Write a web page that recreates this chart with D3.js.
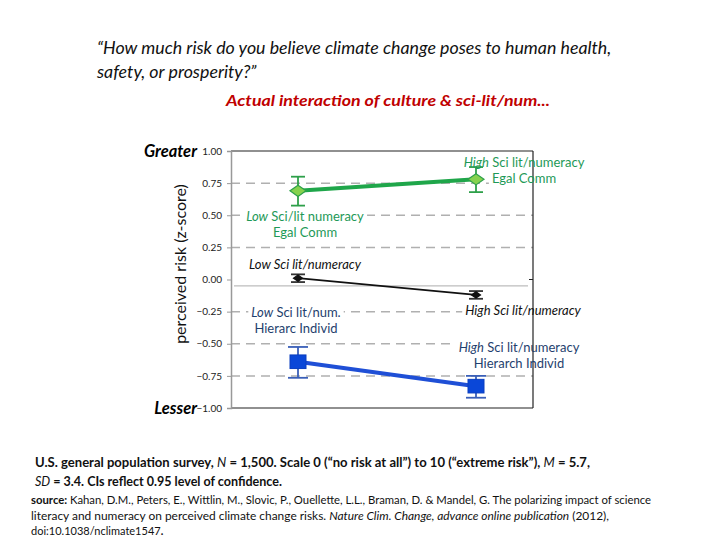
<!DOCTYPE html>
<html>
<head>
<meta charset="utf-8">
<script src="https://cdn.jsdelivr.net/npm/d3@7"></script>
<style>
  body { margin: 0; background: #fff; }
  text { font-family: Lato, "Open Sans", sans-serif; }
</style>
</head>
<body>
<div id="chart"></div>
<script>
// sci-lit/numeracy levels on the x axis
const levels = ["Low", "High"];

// perceived risk (z-score), means and 95% CIs
const egalMean = [0.69, 0.78];
const egalLow = [0.575, 0.68];
const egalHigh = [0.80, 0.875];

const allMean = [0.01, -0.12];
const allLow = [-0.02, -0.15];
const allHigh = [0.04, -0.09];

const hierMean = [-0.64, -0.83];
const hierLow = [-0.765, -0.92];
const hierHigh = [-0.525, -0.75];

const yTicks = [1, 0.75, 0.5, 0.25, 0, -0.25, -0.5, -0.75, -1];
const gridVals = [0.75, 0.5, 0.25, -0.25, -0.5, -0.75];

const W = 720, H = 540;
const plot = { left: 231, right: 533, top: 151, bottom: 408 };

const svg = d3.select("#chart")
  .append("svg")
    .attr("width", W)
    .attr("height", H);

const x = d3.scalePoint()
  .domain(levels)
  .range([298, 476]);

const y = d3.scaleLinear()
  .domain([-1, 1])
  .range([plot.bottom, plot.top]);

// titles
svg.append("text")
  .attr("x", 97).attr("y", 54)
  .style("font-size", "17.8px").style("font-style", "italic")
  .attr("fill", "#111")
  .text("\u201CHow much risk do you believe climate change poses to human health,");
svg.append("text")
  .attr("x", 97).attr("y", 78)
  .style("font-size", "17.8px").style("font-style", "italic")
  .attr("fill", "#111")
  .text("safety, or prosperity?\u201D");

svg.append("text")
  .attr("x", 226).attr("y", 106)
  .attr("textLength", 324).attr("lengthAdjust", "spacingAndGlyphs")
  .style("font-size", "16px").style("font-style", "italic").style("font-weight", "bold")
  .attr("fill", "#c00000")
  .text("Actual interaction of culture & sci-lit/num...");

// gridlines
svg.append("g")
  .selectAll("line")
  .data(gridVals)
  .enter()
  .append("line")
    .attr("x1", plot.left).attr("x2", plot.right)
    .attr("y1", d => y(d)).attr("y2", d => y(d))
    .attr("stroke", "#b0b0b0")
    .attr("stroke-width", 1.5)
    .attr("stroke-dasharray", "9,6");

const bgLayer = svg.append("g");

// light category axis line just below zero
svg.append("line")
  .attr("x1", plot.left + 3).attr("x2", plot.right - 5)
  .attr("y1", y(-0.05)).attr("y2", y(-0.05))
  .attr("stroke", "#bdbdbd").attr("stroke-width", 1.2);

// frame
svg.append("line")
  .attr("x1", plot.left).attr("x2", plot.right)
  .attr("y1", plot.top).attr("y2", plot.top)
  .attr("stroke", "#222").attr("stroke-width", 1.2);
svg.append("line")
  .attr("x1", plot.right).attr("x2", plot.right)
  .attr("y1", plot.top).attr("y2", plot.bottom)
  .attr("stroke", "#222").attr("stroke-width", 1.2);
svg.append("line")
  .attr("x1", plot.left).attr("x2", plot.right)
  .attr("y1", plot.bottom).attr("y2", plot.bottom)
  .attr("stroke", "#222").attr("stroke-width", 1.2);
svg.append("line")
  .attr("x1", plot.right - 4).attr("x2", plot.right)
  .attr("y1", y(0)).attr("y2", y(0))
  .attr("stroke", "#222");

// y axis
const yAxis = svg.append("g")
  .attr("transform", `translate(${plot.left},0)`)
  .call(d3.axisLeft(y).tickValues(yTicks).tickFormat(d3.format(".2f")).tickSize(4).tickPadding(5));
yAxis.select(".domain").attr("stroke", "#999").attr("stroke-width", 1.5);
yAxis.selectAll(".tick line").attr("stroke", "#999");
yAxis.selectAll(".tick text")
  .style("font-size", "10px")
  .style("font-family", "Lato, sans-serif")
  .attr("fill", "#222");

svg.append("text")
  .attr("x", 197).attr("y", y(1) + 6)
  .attr("text-anchor", "end")
  .style("font-size", "16.5px").style("font-style", "italic").style("font-weight", "bold")
  .text("Greater");
svg.append("text")
  .attr("x", 197).attr("y", y(-1) + 6)
  .attr("text-anchor", "end")
  .style("font-size", "16.5px").style("font-style", "italic").style("font-weight", "bold")
  .text("Lesser");

svg.append("text")
  .attr("transform", "translate(186,264) rotate(-90)")
  .attr("text-anchor", "middle")
  .style("font-size", "16px")
  .attr("fill", "#111")
  .text("perceived risk (z-score)");

// series
const series = [
  { mean: hierMean, low: hierLow, high: hierHigh, line: "#1f4fd6", fill: "#0a47d8", stroke: "#0a3fc0", ebar: "#3a5fb8", shape: "square", lw: 4, size: 16 },
  { mean: allMean, low: allLow, high: allHigh, line: "#111", fill: "#111", stroke: "#111", ebar: "#333", shape: "diamond", lw: 1.8, size: 9 },
  { mean: egalMean, low: egalLow, high: egalHigh, line: "#1fa64a", fill: "#86d24e", stroke: "#2ea04a", ebar: "#2ea04a", shape: "diamond", lw: 4, size: 16 }
];

series.forEach(s => {
  const pts = levels.map((l, i) => ({ l, m: s.mean[i], lo: s.low[i], hi: s.high[i] }));

  svg.append("path")
    .datum(pts)
    .attr("fill", "none")
    .attr("stroke", s.line)
    .attr("stroke-width", s.lw)
    .attr("d", d3.line().x(d => x(d.l)).y(d => y(d.m)));

  const g = svg.append("g").selectAll("g").data(pts).enter().append("g");
  const cap = s.shape === "square" ? 10 : 7;
  g.append("line")
    .attr("x1", d => x(d.l)).attr("x2", d => x(d.l))
    .attr("y1", d => y(d.lo)).attr("y2", d => y(d.hi))
    .attr("stroke", s.ebar).attr("stroke-width", 1.8);
  g.append("line")
    .attr("x1", d => x(d.l) - cap).attr("x2", d => x(d.l) + cap)
    .attr("y1", d => y(d.lo)).attr("y2", d => y(d.lo))
    .attr("stroke", s.ebar).attr("stroke-width", 1.8);
  g.append("line")
    .attr("x1", d => x(d.l) - cap).attr("x2", d => x(d.l) + cap)
    .attr("y1", d => y(d.hi)).attr("y2", d => y(d.hi))
    .attr("stroke", s.ebar).attr("stroke-width", 1.8);

  const h = s.size / 2;
  if (s.shape === "square") {
    g.append("rect")
      .attr("x", d => x(d.l) - h).attr("y", d => y(d.m) - h * 0.85)
      .attr("width", s.size).attr("height", s.size * 0.85)
      .attr("fill", s.fill).attr("stroke", s.stroke);
  } else {
    g.append("path")
      .attr("d", d => `M${x(d.l) - h},${y(d.m)}L${x(d.l)},${y(d.m) - h * 0.7}L${x(d.l) + h},${y(d.m)}L${x(d.l)},${y(d.m) + h * 0.7}Z`)
      .attr("fill", s.fill).attr("stroke", s.stroke).attr("stroke-width", 1.2);
  }
});

// annotations (white box behind, so gridlines break around them)
function label(cx, cy, lines, color) {
  const t = svg.append("g").style("font-size", "13px").attr("fill", color);
  lines.forEach((ln, i) => {
    const tx = t.append("text")
      .attr("x", cx).attr("y", cy + i * 16)
      .attr("text-anchor", "middle");
    ln.forEach(part => {
      tx.append("tspan")
        .style("font-style", part[1] ? "italic" : "normal")
        .text(part[0]);
    });
    const b = tx.node().getBBox();
    bgLayer.append("rect")
      .attr("x", b.x - 3).attr("y", b.y)
      .attr("width", b.width + 6).attr("height", b.height)
      .attr("fill", "#fff");
  });
}

const green = "#1e9957", navy = "#1f3f6e";
label(524, 167, [[["High", true], [" Sci lit/numeracy", false]], [["Egal Comm", false]]], green);
label(305, 221, [[["Low", true], ["  Sci/lit numeracy", false]], [["Egal Comm", false]]], green);
label(305, 269, [[["Low Sci lit/numeracy", true]]], "#111");
label(296, 317, [[["Low", true], [" Sci lit/num.", false]], [["Hierarc Individ", false]]], navy);
label(523, 315, [[["High Sci lit/numeracy", true]]], "#111");
label(519, 352, [[["High", true], [" Sci lit/numeracy", false]], [["Hierarch Individ", false]]], navy);

// footer notes
const note = svg.append("g").style("font-size", "13px").style("font-weight", "bold").attr("fill", "#111");
const n1 = note.append("text").attr("x", 35).attr("y", 467)
  .attr("textLength", 555).attr("lengthAdjust", "spacingAndGlyphs");
[["U.S. general population survey, ", 0], ["N", 1], [" = 1,500.  Scale 0 (\u201Cno risk at all\u201D) to 10 (\u201Cextreme risk\u201D), ", 0], ["M", 1], [" = 5.7,", 0]]
  .forEach(p => n1.append("tspan")
    .style("font-style", p[1] ? "italic" : "normal")
    .style("font-weight", p[1] ? "normal" : "bold")
    .text(p[0]));
const n2 = note.append("text").attr("x", 35).attr("y", 486)
  .attr("textLength", 247).attr("lengthAdjust", "spacingAndGlyphs");
[["SD", 1], [" = 3.4. CIs reflect 0.95 level of confidence.", 0]]
  .forEach(p => n2.append("tspan")
    .style("font-style", p[1] ? "italic" : "normal")
    .style("font-weight", p[1] ? "normal" : "bold")
    .text(p[0]));

const src = svg.append("g").style("font-size", "11px").attr("fill", "#111");
const s1 = src.append("text").attr("x", 31).attr("y", 504)
  .attr("textLength", 620).attr("lengthAdjust", "spacingAndGlyphs");
s1.append("tspan").style("font-weight", "bold").text("source: ");
s1.append("tspan").text("Kahan, D.M., Peters, E., Wittlin, M., Slovic, P., Ouellette, L.L., Braman, D. & Mandel, G. The polarizing impact of science");
const s2 = src.append("text").attr("x", 31).attr("y", 520)
  .attr("textLength", 578).attr("lengthAdjust", "spacingAndGlyphs");
s2.append("tspan").text("literacy and numeracy on perceived climate change risks. ");
s2.append("tspan").style("font-style", "italic").text("Nature Clim. Change,  advance online publication");
s2.append("tspan").text(" (2012),");
const s3 = src.append("text").attr("x", 31).attr("y", 535);
s3.append("tspan").text("doi:10.1038/nclimate1547");
s3.append("tspan").style("font-weight", "bold").text(".");
</script>
</body>
</html>
